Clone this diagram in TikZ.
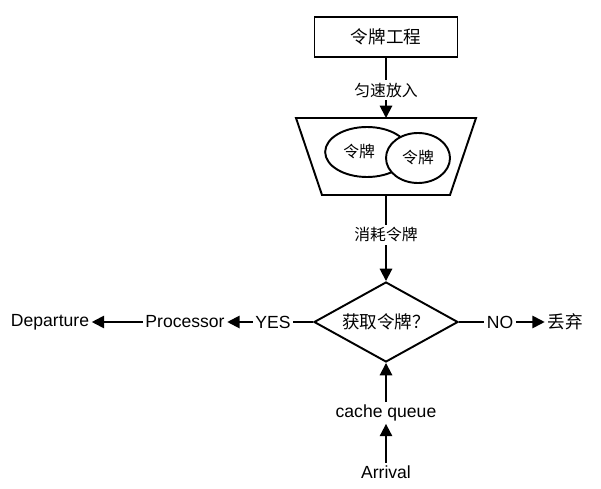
\documentclass[tikz,border=0pt]{standalone}
\usepackage{fontspec}
\setmainfont{Liberation Sans}
\newfontfamily\cjk{Noto Sans CJK SC}
\usetikzlibrary{shapes.geometric,arrows.meta,positioning}
\begin{document}
\begin{tikzpicture}[x=0.02cm,y=-0.02cm,
	line width=1.1pt,
	txt/.style={inner sep=1pt,fill=white,font=\cjk\small},
	go/.style={-{Triangle[length=7pt,width=7pt]}}]
	\def\xMid{386}
	\def\yDia{322}
\useasboundingbox (0,0) rectangle (601,489);
% top box
\node[draw,minimum width=143*0.02cm,minimum height=40*0.02cm,font=\cjk] (gen) at (\xMid,37) {令牌工程};
\node[txt] (put) at (\xMid,90) {匀速放入};
% bucket
\coordinate (bTop) at (\xMid,118);
\coordinate (bBot) at (\xMid,195);
\draw (296,118) -- (476,118) -- (450,195) -- (322,195) -- cycle;
\node[draw,ellipse,minimum width=70*0.02cm,minimum height=50*0.02cm,font=\cjk\small] (tokA) at (367,152) {令牌\hspace*{1em}};
\node[draw,ellipse,fill=white,minimum width=64*0.02cm,minimum height=50*0.02cm,font=\cjk\small] (tokB) at (418,158) {令牌};
\node[txt] (use) at (\xMid,235) {消耗令牌};
% decision
\node[draw,diamond,aspect=1.8,minimum width=144*0.02cm,minimum height=80*0.02cm,inner sep=0pt,font=\cjk] (ask) at (\xMid,\yDia) {获取令牌？};
\node[txt,font=\normalsize] (yes) at (273,\yDia) {YES};
\node[txt,font=\normalsize] (proc) at (185,\yDia) {Processor};
\node[txt,font=\normalsize] (dep) at (50,\yDia) {Departure};
\node[txt,font=\normalsize] (no) at (500,\yDia) {NO};
\node[txt,font=\cjk] (drop) at (565,\yDia) {丢弃};
\node[txt,font=\normalsize] (cache) at (\xMid,413) {cache queue};
\node[txt,font=\normalsize] (arr) at (\xMid,472) {Arrival};
% connectors
\draw (gen) -- (put);
\draw[go] (put) -- (bTop);
\draw (bBot) -- (use);
\draw[go] (use) -- (ask);
\draw (ask) -- (yes);
\draw[go] (yes) -- (proc);
\draw[go] (proc) -- (dep);
\draw (ask) -- (no);
\draw[go] (no) -- (drop);
\draw[go] (cache) -- (ask);
\draw[go] (arr) -- (cache);
\end{tikzpicture}
\end{document}
